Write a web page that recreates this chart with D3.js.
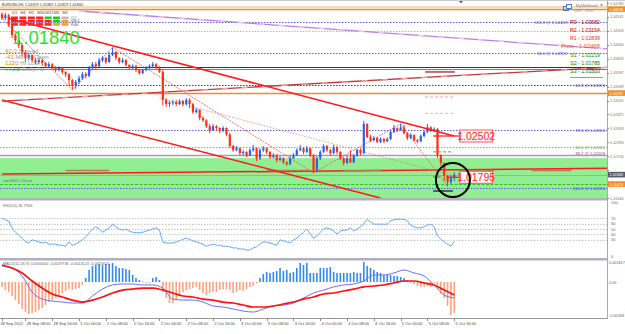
<!DOCTYPE html>
<html><head><meta charset="utf-8">
<script src="https://cdnjs.cloudflare.com/ajax/libs/d3/7.8.5/d3.min.js"></script>
<style>html,body{margin:0;padding:0;background:#fff;overflow:hidden}svg{display:block;font-family:"Liberation Sans",Arial,sans-serif}</style>
</head><body>
<svg id="chart" width="625" height="334"></svg>
<script>
// ---------- DATA ----------
const openP=[1.0459,1.0452,1.0457,1.0440,1.0423,1.0414,1.0406,1.0394,1.0384,1.0389,
1.0380,1.0377,1.0380,1.0375,1.0370,1.0373,1.0368,1.0363,1.0367,1.0360,
1.0356,1.0346,1.0336,1.0343,1.0349,1.0356,1.0353,1.0367,1.0373,1.0370,
1.0380,1.0384,1.0377,1.0389,1.0394,1.0384,1.0377,1.0380,1.0372,1.0367,
1.0370,1.0363,1.0358,1.0363,1.0367,1.0370,1.0373,1.0367,1.0360,1.0312,
1.0305,1.0307,1.0308,1.0305,1.0310,1.0305,1.0312,1.0305,1.0291,1.0295,
1.0281,1.0277,1.0267,1.0260,1.0267,1.0264,1.0259,1.0264,1.0253,1.0233,
1.0226,1.0229,1.0221,1.0223,1.0217,1.0226,1.0229,1.0212,1.0226,1.0229,
1.0223,1.0214,1.0217,1.0209,1.0212,1.0205,1.0202,1.0212,1.0217,1.0226,
1.0229,1.0223,1.0229,1.0217,1.0192,1.0212,1.0223,1.0233,1.0226,1.0221,
1.0231,1.0223,1.0212,1.0204,1.0212,1.0205,1.0217,1.0226,1.0221,1.0271,
1.0248,1.0243,1.0247,1.0240,1.0245,1.0241,1.0245,1.0257,1.0264,1.0260,
1.0265,1.0255,1.0247,1.0252,1.0243,1.0241,1.0250,1.0257,1.0265,1.0259,
1.0262,1.0217,1.0204,1.0182,1.0171,1.0178];
const highP=[1.0462,1.0461,1.0459,1.0442,1.0426,1.0418,1.0408,1.0397,1.0392,1.0390,
1.0384,1.0384,1.0382,1.0377,1.0377,1.0375,1.0370,1.0370,1.0368,1.0361,
1.0358,1.0348,1.0346,1.0353,1.0360,1.0360,1.0370,1.0377,1.0377,1.0384,
1.0387,1.0385,1.0394,1.0402,1.0396,1.0385,1.0384,1.0382,1.0373,1.0373,
1.0372,1.0365,1.0365,1.0370,1.0373,1.0377,1.0375,1.0370,1.0363,1.0315,
1.0310,1.0312,1.0312,1.0313,1.0312,1.0315,1.0315,1.0307,1.0298,1.0296,
1.0284,1.0279,1.0271,1.0271,1.0269,1.0265,1.0267,1.0265,1.0255,1.0235,
1.0233,1.0231,1.0226,1.0224,1.0229,1.0235,1.0231,1.0229,1.0233,1.0231,
1.0224,1.0221,1.0219,1.0216,1.0214,1.0207,1.0216,1.0221,1.0229,1.0235,
1.0231,1.0233,1.0231,1.0219,1.0216,1.0226,1.0236,1.0235,1.0228,1.0235,
1.0233,1.0224,1.0214,1.0216,1.0226,1.0219,1.0228,1.0229,1.0276,1.0272,
1.0252,1.0250,1.0248,1.0248,1.0247,1.0248,1.0259,1.0269,1.0265,1.0271,
1.0269,1.0257,1.0255,1.0253,1.0245,1.0253,1.0260,1.0271,1.0267,1.0265,
1.0264,1.0219,1.0205,1.0183,1.0182,1.0188];
const lowP=[1.0449,1.0449,1.0437,1.0418,1.0408,1.0401,1.0387,1.0377,1.0380,1.0377,
1.0373,1.0373,1.0370,1.0367,1.0368,1.0365,1.0360,1.0361,1.0356,1.0351,
1.0337,1.0329,1.0331,1.0339,1.0346,1.0349,1.0351,1.0363,1.0365,1.0368,
1.0377,1.0373,1.0375,1.0387,1.0380,1.0373,1.0375,1.0370,1.0363,1.0365,
1.0360,1.0355,1.0356,1.0361,1.0365,1.0368,1.0365,1.0358,1.0303,1.0300,
1.0300,1.0303,1.0301,1.0303,1.0301,1.0303,1.0298,1.0288,1.0289,1.0277,
1.0274,1.0264,1.0255,1.0259,1.0260,1.0255,1.0257,1.0250,1.0229,1.0223,
1.0224,1.0217,1.0217,1.0214,1.0216,1.0223,1.0207,1.0209,1.0223,1.0219,
1.0211,1.0212,1.0205,1.0207,1.0202,1.0199,1.0200,1.0211,1.0216,1.0224,
1.0219,1.0221,1.0214,1.0187,1.0188,1.0209,1.0221,1.0223,1.0217,1.0219,
1.0219,1.0209,1.0200,1.0202,1.0204,1.0204,1.0214,1.0217,1.0219,1.0247,
1.0240,1.0241,1.0238,1.0238,1.0238,1.0240,1.0243,1.0255,1.0257,1.0259,
1.0253,1.0243,1.0245,1.0241,1.0238,1.0240,1.0248,1.0255,1.0257,1.0257,
1.0212,1.0199,1.0173,1.0164,1.0168,1.0173];
const closeP=[1.0452,1.0457,1.0440,1.0423,1.0414,1.0406,1.0394,1.0384,1.0389,1.0380,
1.0377,1.0380,1.0375,1.0370,1.0373,1.0368,1.0363,1.0367,1.0360,1.0356,
1.0346,1.0336,1.0343,1.0349,1.0356,1.0353,1.0367,1.0373,1.0370,1.0380,
1.0384,1.0377,1.0389,1.0394,1.0384,1.0377,1.0380,1.0372,1.0367,1.0370,
1.0363,1.0358,1.0363,1.0367,1.0370,1.0373,1.0367,1.0360,1.0312,1.0305,
1.0307,1.0308,1.0305,1.0310,1.0305,1.0312,1.0305,1.0291,1.0295,1.0281,
1.0277,1.0267,1.0260,1.0267,1.0264,1.0259,1.0264,1.0253,1.0233,1.0226,
1.0229,1.0221,1.0223,1.0217,1.0226,1.0229,1.0212,1.0226,1.0229,1.0223,
1.0214,1.0217,1.0209,1.0212,1.0205,1.0202,1.0212,1.0217,1.0226,1.0229,
1.0223,1.0229,1.0217,1.0192,1.0212,1.0223,1.0233,1.0226,1.0221,1.0231,
1.0223,1.0212,1.0204,1.0212,1.0205,1.0217,1.0226,1.0221,1.0271,1.0248,
1.0243,1.0247,1.0240,1.0245,1.0241,1.0245,1.0257,1.0264,1.0260,1.0265,
1.0255,1.0247,1.0252,1.0243,1.0241,1.0250,1.0257,1.0265,1.0259,1.0262,
1.0217,1.0204,1.0182,1.0171,1.0178,1.0184];

const rsiValues=[70,67,65,52,44,39,33,26,24,30,
28,26,24,26,22,22,22,20,20,18,
26,20,22,26,30,35,43,50,54,50,
44,48,52,59,54,50,48,50,46,44,
43,43,44,46,48,50,52,48,26,24,
24,24,26,28,31,33,31,28,26,24,
22,18,20,22,20,20,18,18,17,15,
15,13,13,11,11,15,17,22,26,26,
24,22,20,30,28,26,24,30,33,39,
44,50,41,33,37,44,50,52,50,46,
41,46,48,48,52,46,50,54,59,68,
63,59,59,59,59,59,65,67,68,68,
68,65,57,54,52,52,54,57,59,54,
37,31,26,22,18,27];
const rsiLevels=[70,60,50,40,30];
const rsiAxisLabels=[100,70,60,50,40,30,0];

const macdHist=[-0.00045,-0.00073,-0.00091,-0.00127,-0.00164,-0.00200,-0.00245,-0.00273,-0.00291,-0.00282,
-0.00273,-0.00255,-0.00236,-0.00209,-0.00182,-0.00164,-0.00145,-0.00118,-0.00100,-0.00082,
-0.00064,-0.00073,-0.00064,-0.00055,-0.00027,0.00036,0.00109,0.00145,0.00155,0.00164,
0.00155,0.00164,0.00164,0.00173,0.00145,0.00127,0.00127,0.00118,0.00109,0.00064,
0.00036,0.00018,0.00005,-0.00009,-0.00009,0.00036,0.00045,0.00018,-0.00091,-0.00145,
-0.00191,-0.00191,-0.00164,-0.00127,-0.00091,-0.00073,-0.00064,-0.00055,-0.00045,-0.00073,
-0.00100,-0.00118,-0.00100,-0.00091,-0.00091,-0.00073,-0.00064,-0.00064,-0.00073,-0.00100,
-0.00091,-0.00073,-0.00082,-0.00064,-0.00045,-0.00036,-0.00009,0.00036,0.00073,0.00091,
0.00082,0.00091,0.00100,0.00127,0.00100,0.00109,0.00082,0.00091,0.00127,0.00173,
0.00155,0.00173,0.00082,0.00082,0.00082,0.00127,0.00127,0.00127,0.00136,0.00091,
0.00082,0.00082,0.00082,0.00082,0.00082,0.00091,0.00082,0.00082,0.00182,0.00145,
0.00127,0.00109,0.00091,0.00082,0.00064,0.00064,0.00064,0.00055,0.00055,0.00045,
0.00036,0.00018,0.00000,-0.00018,-0.00036,-0.00045,-0.00045,-0.00036,-0.00045,-0.00009,
-0.00027,-0.00109,-0.00145,-0.00218,-0.00300,-0.00280];
// MACD lines, read every 3rd bar
const lineStep=3;
const macdLine=[0.00145,0.00127,0.00055,-0.00091,-0.00155,-0.00173,-0.00182,-0.00191,-0.00191,-0.00127,
-0.00064,-0.00027,-0.00018,-0.00018,-0.00027,-0.00027,-0.00055,-0.00155,-0.00164,-0.00164,
-0.00182,-0.00218,-0.00227,-0.00245,-0.00264,-0.00273,-0.00245,-0.00218,-0.00209,-0.00191,
-0.00145,-0.00100,-0.00073,-0.00045,-0.00027,-0.00018,0.00009,0.00064,0.00064,0.00082,
0.00109,0.00082,0.00055,-0.00027,-0.00118,-0.00145];
const signalLine=[0.00155,0.00127,0.00082,0.00009,-0.00055,-0.00109,-0.00136,-0.00164,-0.00182,-0.00164,
-0.00136,-0.00100,-0.00073,-0.00064,-0.00055,-0.00055,-0.00073,-0.00100,-0.00127,-0.00136,
-0.00155,-0.00164,-0.00182,-0.00191,-0.00209,-0.00227,-0.00227,-0.00218,-0.00200,-0.00182,
-0.00155,-0.00136,-0.00109,-0.00100,-0.00082,-0.00064,-0.00045,-0.00036,-0.00027,-0.00009,
0.00009,0.00009,-0.00009,-0.00027,-0.00073,-0.00118];
const macdAxisLabels=[0.001817,0,-0.00308];

const timeLabels=["28 Sep 2012","28 Sep 08:00","28 Sep 16:00","1 Oct 00:00","1 Oct 08:00","1 Oct 16:00","2 Oct 00:00","2 Oct 08:00","2 Oct 16:00","3 Oct 00:00","3 Oct 08:00","3 Oct 16:00","4 Oct 00:00","4 Oct 08:00","4 Oct 16:00","5 Oct 00:00","5 Oct 08:00","5 Oct 16:00"];
const timeLabelBars=[0,7,15,23,31,39,47,55,63,71,79,87,95,103,111,119,127,135];
const priceTicks=[1.04780,1.04541,1.04303,1.04064,1.03826,1.03587,1.03349,1.03110,1.02871,1.02633,1.02394,1.02156,1.01917,1.01679,1.01440];

// levels
const orangeLevels=[1.04676,1.03237];
const blueFibLevels=[1.04453,1.03922,1.02603,1.01610];
const tealLevels=[1.04299];
const greenFibLevels=[1.02312];
const navyLevel=1.03682, maroonLevel=1.03657, purpleDotLevel=1.03374, grayLevel=1.02175;
const bandTop=1.02124, bandBottom=1.0144;
const bidPrice=1.01840, greenDashLevel=1.01679;
const fibTexts=["161.8 @ 1.04453","50.0 @ 1.03922","78.6 @ 1.02603","100.0 @ 1.01610"];
const pivotTexts=["R3 - 1.03582","R2 - 1.03154","R1 - 1.02839","Pivot - 1.02468","S1 - 1.02219","S2 - 1.01785","S3 - 1.01503"];

// trend lines: [bar, price]
const upperChannel=[[2,1.0452],[135,1.02502]];
const lowerChannel=[[0,1.0312],[113,1.0144]];
const purpleTrend=[[23,1.04643],[181,1.03992]];
const risingTrend=[[0,1.0310],[181,1.0368]];
const bandRedLine=[[0,1.0185],[181,1.0195]];
const zigzag=[[0,1.0452],[21,1.0329],[33,1.0402],[93,1.0187],[119,1.0271],[133,1.0164]];
const dottedTrend=[[47,1.0315],[135,1.0182]];
const brownSegments=[[19,32],[79,92],[102,113],[137,147],[158,170]];
const brownPrice=1.0191;
const markPrice1=1.02502, markPrice2=1.01795;

const headerText="EURUSD,H1  1.01873 1.01882 1.01829 1.01840";
const bigPrice="1.01840";
const tfLabels=["D1","H4","H1","M30","M15","M5","M1"];
const tfSignals=[["d","d","d","d","u","u","n"],["d","d","d","d","d","u","o"],["d","d","d","d","d","o","o"]];
const tfRowNames=["CCI","MACD","EMA"];
const infoRows=[["40.0","Spread"],["-41","Min to Open"],["1220","Hi Low"],["773.5","Daily Av"]];

// ---------- DRAW ----------
const svg=d3.select('#chart');
const PR=607;
const x=d3.scaleLinear().domain([0,135]).range([2,454.25]);
const y=d3.scaleLinear().domain([1.0144,1.0478]).range([198,3]);
const yR=d3.scaleLinear().domain([0,100]).range([256,202]);
const yM=d3.scaleLinear().domain([-0.00327,0.002]).range([318,260]);
const cr=v=>Math.round(v)+0.5;

svg.append('rect').attr('width',625).attr('height',334).attr('fill','#fff');
const defs=svg.append('defs');
function clip(id,x0,y0,w,h){defs.append('clipPath').attr('id',id).append('rect').attr('x',x0).attr('y',y0).attr('width',w).attr('height',h);}
clip('cm',0,0,PR,198);clip('cr',0,201,PR,57);clip('cd',0,261,PR,57);

const gm=svg.append('g').attr('clip-path','url(#cm)');
gm.append('rect').attr('x',0).attr('width',PR).attr('y',y(bandTop)).attr('height',y(bandBottom)-y(bandTop)).attr('fill','#92ee92');

function hline(g,p,color,w,dash,x1,x2){
  g.append('line').attr('x1',x1==null?0:x1).attr('x2',x2==null?PR:x2).attr('y1',cr(y(p))).attr('y2',cr(y(p)))
   .attr('stroke',color).attr('stroke-width',w).attr('stroke-dasharray',dash||null);
}
function seg(g,pts,color,w,dash,op){
  g.append('path').attr('d',d3.line().x(d=>x(d[0])).y(d=>y(d[1]))(pts)).attr('fill','none')
   .attr('stroke',color).attr('stroke-width',w).attr('stroke-dasharray',dash||null).attr('opacity',op||1);
}
gm.append('rect').attr('x',0).attr('width',PR).attr('y',y(orangeLevels[0])-3).attr('height',2).attr('fill','#fbd9b0');
orangeLevels.forEach(p=>hline(gm,p,'#f08a24',1.3));
blueFibLevels.forEach(p=>hline(gm,p,'#5a5aee',1,'1.5,1.5'));
tealLevels.forEach(p=>hline(gm,p,'#8fcfb0',1,'1.5,1.5'));
greenFibLevels.forEach(p=>hline(gm,p,'#7cb87c',1,'1.5,1.5'));
hline(gm,navyLevel,'#34306a',1.2);
hline(gm,maroonLevel,'#a04040',0.8);
hline(gm,purpleDotLevel,'#503080',1,'1.5,1.5');
hline(gm,grayLevel,'#9ea0b4',1.6);
hline(gm,bidPrice,'#a8a8b8',1.2);
hline(gm,greenDashLevel,'#33bb33',1.2,'3,1.5');

seg(gm,purpleTrend,'#b87fdc',1.3);
seg(gm,purpleTrend,'#f4c8ec',1.3,'6,14');
seg(gm,risingTrend,'#c23838',1.3);
seg(gm,risingTrend,'#f2a8a8',1.3,'6,14');
seg(gm,bandRedLine,'#ff1a1a',1.5);
brownSegments.forEach(s=>seg(gm,[[s[0],brownPrice],[s[1],brownPrice]],'#b87c55',1.6));

seg(gm,zigzag,'#ff5050',0.9,'2,1',0.9);
seg(gm,dottedTrend,'#d07878',0.8,'1.5,1.5',0.9);

// candles
const bull='#2f5ff0', bear='#ff3010';
const bars=d3.range(closeP.length);
const gc=gm.append('g');
gc.selectAll('line.wick').data(bars).join('line').attr('class','wick')
  .attr('x1',i=>x(i)).attr('x2',i=>x(i)).attr('y1',i=>y(highP[i])).attr('y2',i=>y(lowP[i]))
  .attr('stroke',i=>closeP[i]>=openP[i]?bull:bear).attr('stroke-width',1);
gc.selectAll('rect.body').data(bars).join('rect').attr('class','body')
  .attr('x',i=>x(i)-1.1).attr('width',2.2)
  .attr('y',i=>y(Math.max(openP[i],closeP[i])))
  .attr('height',i=>Math.max(1,Math.abs(y(openP[i])-y(closeP[i]))))
  .attr('fill',i=>closeP[i]>=openP[i]?bull:bear);

seg(gm,upperChannel,'#ff1a1a',1.6);
seg(gm,lowerChannel,'#ff1a1a',1.6);

seg(gm,[[126.3,1.0360],[135.2,1.0360]],'#b07070',2);
seg(gm,[[126.3,1.0317],[135.2,1.0317]],'#ff9aa8',1,'3,2');
seg(gm,[[126.3,1.0289],[135.2,1.0289]],'#ffaab4',1,'3,2');
seg(gm,[[128.7,1.0223],[134.6,1.0223]],'#44aa44',1,'3,2');
seg(gm,[[128.7,markPrice1],[136.7,markPrice1]],'#ff2020',1.3);
seg(gm,[[132.8,markPrice2],[136.7,markPrice2]],'#ff2020',1.3);
seg(gm,[[128.7,1.0180],[130.7,1.0180]],'#22aa22',1.2);
seg(gm,[[128.7,1.0156],[134.6,1.0156]],'#111',1.2);

[[markPrice1,'1.02502'],[markPrice2,'1.01795']].forEach(d=>{
  const yy=y(d[0]);
  gm.append('rect').attr('x',x(136.6)).attr('y',yy-6).attr('width',33).attr('height',12).attr('fill','#fff5f5').attr('stroke','#ff5555').attr('stroke-width',1);
  gm.append('text').attr('x',x(136.6)+16.5).attr('y',yy+4).attr('text-anchor','middle').attr('font-size',10.5).attr('fill','#ff2a2a').text(d[1]);
});
gm.append('circle').attr('cx',x(134.6)).attr('cy',y(1.0175)).attr('r',17).attr('fill','none').attr('stroke','#000').attr('stroke-width',2);

// fib labels (the two that fall inside the pivot block sit just left of it)
fibTexts.forEach((t,i)=>{
  const inBlock=(i<2);
  gm.append('text').attr('x',inBlock?567:605).attr('y',y(blueFibLevels[i])+1.5).attr('text-anchor','end').attr('font-size',4.2).attr('fill','#4848e8').text(t);
});
gm.append('text').attr('x',605).attr('y',y(purpleDotLevel)+1.5).attr('text-anchor','end').attr('font-size',4.2).attr('fill','#4848c8').text('61.8 @ 1.03374');
gm.append('text').attr('x',605).attr('y',y(greenFibLevels[0])+1.5).attr('text-anchor','end').attr('font-size',4.2).attr('fill','#66aa66').text('50.0 @ 1.02312');
gm.append('text').attr('x',605).attr('y',y(grayLevel)-0.5).attr('text-anchor','end').attr('font-size',4.2).attr('fill','#a040a0').text('38.2 @ 1.02209');

const pivColors=['#b00000','#e00000','#ff1a1a','#ff5a00','#00a000','#008800','#006a00'];
pivotTexts.forEach((t,i)=>{
  gm.append('text').attr('x',600).attr('y',23.5+i*8.3).attr('text-anchor','end')
    .attr('font-size',i===3?5.8:5.2).attr('fill',pivColors[i]).text(t);
});
gm.append('line').attr('x1',570).attr('x2',603).attr('y1',77.5).attr('y2',77.5).attr('stroke','#999').attr('stroke-width',1);
gm.append('text').attr('x',598).attr('y',6.5).attr('text-anchor','end').attr('font-size',4).attr('fill','#777').text('MyWebbook');
gm.append('text').attr('x',603).attr('y',6.5).attr('text-anchor','end').attr('font-size',5).attr('fill','#555').text('×');
gm.append('text').attr('x',602).attr('y',12).attr('text-anchor','end').attr('font-size',3.6).attr('fill','#999').text('IBFX - Euro / ...... ');
gm.append('rect').attr('x',563.5).attr('y',6.5).attr('width',5).attr('height',4).attr('fill','none').attr('stroke','#3a6fc8').attr('stroke-width',0.9);
gm.append('rect').attr('x',566.5).attr('y',4.5).attr('width',5).attr('height',4).attr('fill','#fff').attr('stroke','#3a6fc8').attr('stroke-width',0.9);
gm.append('path').attr('d',`M${x(137)-2},1 L${x(137)+2},1 L${x(137)},3.5 Z`).attr('fill','#8040c0');

// left overlays
gm.append('text').attr('x',2).attr('y',5.5).attr('font-size',3.8).attr('fill','#333').text(headerText);
const sigCol={d:'#ff2020',u:'#22cc22',o:'#ff9922',n:'#bbbbbb'};
tfLabels.forEach((t,i)=>gm.append('text').attr('x',12+i*8.4).attr('y',14.3).attr('font-size',4).attr('fill','#444').text(t));
tfSignals.forEach((row,r)=>row.forEach((s,c)=>{
  gm.append('rect').attr('x',11+c*8.4).attr('y',16.5+r*3.3).attr('width',7).attr('height',2.6).attr('fill',sigCol[s]);
}));
tfRowNames.forEach((t,r)=>gm.append('text').attr('x',71).attr('y',18.9+r*3.3).attr('font-size',3.2).attr('fill','#777').text(t));
gm.append('text').attr('x',13).attr('y',43.6).attr('font-size',18.5).attr('fill','#2fe02f').text(bigPrice);
const infoCol=['#ff8c00','#ff7a1a','#f08a00','#22a822'];
infoRows.forEach((r,i)=>{
  const t=gm.append('text').attr('x',5).attr('y',53.2+i*5.8).attr('font-size',6.1);
  t.append('tspan').attr('fill',infoCol[i]).text(r[0]+' ');
  t.append('tspan').attr('fill','#999').text(r[1]);
});
gm.append('text').attr('x',3).attr('y',y(1.0171)).attr('font-size',3.6).attr('fill','#667').text('sanJ0005 1.01xxx');

// ---------- RSI ----------
const gr=svg.append('g').attr('clip-path','url(#cr)');
rsiLevels.forEach(v=>gr.append('line').attr('x1',0).attr('x2',PR).attr('y1',cr(yR(v))).attr('y2',cr(yR(v))).attr('stroke','#c8c8c8').attr('stroke-dasharray','1.5,1.5'));
gr.append('path').attr('d',d3.line().x((d,i)=>x(i)).y(d=>yR(d))(rsiValues)).attr('fill','none').attr('stroke','#62a8ff').attr('stroke-width',1);
svg.append('text').attr('x',3).attr('y',206.5).attr('font-size',4).attr('fill','#666').text('RSI(14) 26.7906');
rsiAxisLabels.forEach(v=>svg.append('text').attr('x',611).attr('y',yR(v)+1.5).attr('font-size',4).attr('fill','#666').text(v));

// ---------- MACD ----------
const gd=svg.append('g').attr('clip-path','url(#cd)');
gd.selectAll('rect.h').data(bars).join('rect').attr('class','h')
  .attr('x',i=>x(i)-0.8).attr('width',1.6)
  .attr('y',i=>Math.min(yM(0),yM(macdHist[i]))).attr('height',i=>Math.max(0.6,Math.abs(yM(macdHist[i])-yM(0))))
  .attr('fill',i=>macdHist[i]>=0?'#2e8cf0':'#ffa27c');
gd.append('path').attr('d',d3.line().x((d,i)=>x(i*lineStep)).y(d=>yM(d)).curve(d3.curveMonotoneX)(macdLine)).attr('fill','none').attr('stroke','#6c6cff').attr('stroke-width',1);
gd.append('path').attr('d',d3.line().x((d,i)=>x(i*lineStep)).y(d=>yM(d)).curve(d3.curveMonotoneX)(signalLine)).attr('fill','none').attr('stroke','#ff1010').attr('stroke-width',1.7);
svg.append('text').attr('x',3).attr('y',264.5).attr('font-size',3.8).attr('fill','#666').text('MACD(12,26,9) 0.0000000 -0.0029736 -0.0014123 -0.0015613');
macdAxisLabels.forEach(v=>svg.append('text').attr('x',609).attr('y',yM(v)+1.5).attr('font-size',3.8).attr('fill','#666').text(v===0?'0.00':v));

// ---------- frames / axes ----------
svg.append('rect').attr('x',0).attr('y',198).attr('width',PR).attr('height',2.5).attr('fill','#b0b0c0');
svg.append('rect').attr('x',0).attr('y',258).attr('width',PR).attr('height',2.5).attr('fill','#b0b0c0');
svg.append('line').attr('x1',0).attr('x2',PR).attr('y1',318.5).attr('y2',318.5).attr('stroke','#999');
svg.append('line').attr('x1',PR+0.5).attr('x2',PR+0.5).attr('y1',0).attr('y2',319).attr('stroke','#aaa');
svg.append('line').attr('x1',0).attr('x2',625).attr('y1',0.5).attr('y2',0.5).attr('stroke','#ccc');

const boxLevels=[[orangeLevels[0],'#f58a1f','1.04676'],[orangeLevels[1],'#f58a1f','1.03237'],[bidPrice,'#5c5c66','1.01840'],[greenDashLevel,'#f58a1f','1.01679']];
priceTicks.forEach(v=>{
  svg.append('line').attr('x1',PR).attr('x2',PR+2).attr('y1',cr(y(v))).attr('y2',cr(y(v))).attr('stroke','#888');
  const clash=boxLevels.some(b=>Math.abs(y(b[0])-y(v))<6);
  if(!clash) svg.append('text').attr('x',610).attr('y',y(v)+1.5).attr('font-size',3.8).attr('fill','#777').text(v.toFixed(5));
});
boxLevels.forEach(b=>{
  svg.append('rect').attr('x',PR+1).attr('y',y(b[0])-2.8).attr('width',17).attr('height',5.6).attr('fill',b[1]);
  svg.append('text').attr('x',PR+2.5).attr('y',y(b[0])+1.5).attr('font-size',3.8).attr('fill','#fff').text(b[2]);
});

timeLabelBars.forEach((b,i)=>{
  svg.append('line').attr('x1',cr(x(b))).attr('x2',cr(x(b))).attr('y1',318).attr('y2',321).attr('stroke','#888');
  svg.append('text').attr('x',i===0?0.5:x(b)+1.2).attr('y',324.5).attr('font-size',4).attr('fill','#444').text(timeLabels[i]);
});
</script>
</body></html>
